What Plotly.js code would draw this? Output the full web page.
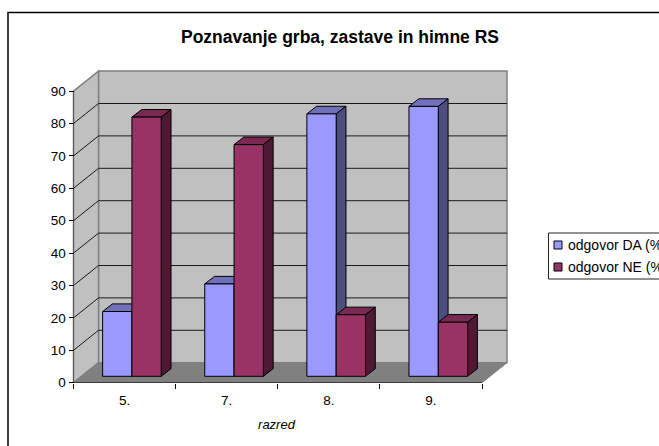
<!DOCTYPE html>
<html><head><meta charset="utf-8">
<script src="https://cdn.plot.ly/plotly-3.0.1.min.js"></script>
<style>html,body{margin:0;padding:0;background:#fff;overflow:hidden}</style>
</head><body><div id="chart" style="width:659px;height:446px"></div>
<script>
const categories = ["5.","7.","8.","9."];
const seriesDA = [20, 28.5, 81, 83.3];
const seriesNE = [80, 71.5, 19, 16.7];
const nameDA = "odgovor DA (%)";
const nameNE = "odgovor NE (%)";
const yTicks = [0,10,20,30,40,50,60,70,80,90];

const W=659,H=446;
const FONT='"Liberation Sans", Arial, sans-serif';
// pixel calibration of the plot
const pxLeft=42, pxRight=511, pxTop=66, pxBottom=382.7;
const x0=73.5, catPx=102.125, unitPx=3.24;
const depthX=25/catPx, depthY=20/unitPx;       // wall depth
const barDX=9.8/catPx, barDY=7.6/unitPx;       // bar depth
const lift=6.4/unitPx, barStart=0.285, barW=0.287;
const n=categories.length, yMax=90;
const idx=categories.map((_,i)=>i);
const poly=(pts)=>'M'+pts.map(p=>p[0]+','+p[1]).join(' L')+' Z';
const line=(pts)=>'M'+pts.map(p=>p[0]+','+p[1]).join(' L');
const dataShape=(path,fill,col,w)=>({type:'path',xref:'x',yref:'y',layer:'below',path,fillcolor:fill||'rgba(0,0,0,0)',line:{color:col,width:w}});

const shapes=[];
// back wall, side wall, floor
shapes.push(dataShape(poly([[depthX,depthY],[n+depthX,depthY],[n+depthX,yMax+depthY],[depthX,yMax+depthY]]),'#C0C0C0','#808080',1.5));
shapes.push(dataShape(poly([[0,0],[depthX,depthY],[depthX,yMax+depthY],[0,yMax]]),'#C0C0C0','#808080',1.5));
shapes.push(dataShape(poly([[0,0],[n,0],[n+depthX,depthY],[depthX,depthY]]),'#808080','#808080',1));
// gridlines
yTicks.filter(v=>v>0&&v<yMax).forEach(v=>{
  shapes.push(dataShape(line([[0,v],[depthX,v+depthY],[n+depthX,v+depthY]]),null,'#1a1a1a',1));
});
// axis lines
shapes.push(dataShape(line([[0,0],[0,yMax]]),null,'#555555',1));
shapes.push(dataShape(line([[0,0],[n,0]]),null,'#000000',1));
// bar depth faces, from the data
function faces(values,shift,top,side){
  values.forEach((v,i)=>{
    const a=i+barStart+shift, b=a+barW, t=v+lift;
    shapes.push(dataShape(poly([[a,t],[b,t],[b+barDX,t+barDY],[a+barDX,t+barDY]]),top,'#000',1));
    shapes.push(dataShape(poly([[b,lift],[b+barDX,lift+barDY],[b+barDX,t+barDY],[b,t]]),side,'#000',1));
  });
}
faces(seriesDA,0,'#7070BB','#4D4D80');
faces(seriesNE,barW,'#7A2952','#4D1933');

// legend box, drawn to the reference's position and clipped by the window
const pxX=p=>p/W, pxY=p=>1-p/H;
const paperShape=(x1,y1,x2,y2,fill,col,w)=>({type:'rect',xref:'paper',yref:'paper',layer:'above',x0:pxX(x1),x1:pxX(x2),y0:pxY(y1),y1:pxY(y2),fillcolor:fill,line:{color:col,width:w}});
shapes.push(paperShape(548.5,233,680,279,'#FFFFFF','#222222',1));
shapes.push(paperShape(554,241,562,249,'#9999FF','#000',1));
shapes.push(paperShape(554,263,562,271,'#993366','#000',1));
// outer chart frame
shapes.push({type:'path',xref:'paper',yref:'paper',layer:'above',
  path:`M${pxX(8)},${pxY(446)} L${pxX(8)},${pxY(12.5)} L${pxX(659)},${pxY(12.5)}`,
  line:{color:'#000',width:1.5}});

const barTrace=(name,values,shift,color)=>({type:'bar',name,x:idx.map(i=>i+barStart+shift+barW/2),y:values,base:values.map(()=>lift),
  width:barW,marker:{color,line:{color:'#000',width:1}},hoverinfo:'y+name'});
const traces=[barTrace(nameDA,seriesDA,0,'#9999FF'),barTrace(nameNE,seriesNE,barW,'#993366')];

const legendText=(t,yp)=>({xref:'paper',yref:'paper',x:pxX(566),y:pxY(yp),xanchor:'left',yanchor:'middle',showarrow:false,text:t,align:'left',font:{family:FONT,size:14,color:'#000'}});

const layout={
  width:W,height:H,paper_bgcolor:'#fff',plot_bgcolor:'#fff',
  margin:{l:0,r:0,t:0,b:0,autoexpand:false},
  showlegend:false,barmode:'overlay',
  title:{text:'<b>Poznavanje grba, zastave in himne RS</b>',x:340/W,xanchor:'center',xref:'paper',y:1-37/H,yanchor:'middle',yref:'paper',font:{family:FONT,size:17.5,color:'#000'}},
  xaxis:{domain:[pxLeft/W,pxRight/W],range:[(pxLeft-x0)/catPx,(pxRight-x0)/catPx],
    tickmode:'array',tickvals:idx.map(i=>i+0.5),ticktext:categories,ticks:'',showgrid:false,zeroline:false,showline:false,
    tickfont:{family:FONT,size:13.5,color:'#000'},ticklabelstandoff:8,
    minor:{tickmode:'array',tickvals:[0,1,2,3,4],ticks:'outside',ticklen:5,tickcolor:'#000',tickwidth:1,showgrid:false},
    title:{text:'<i>razred</i>',font:{family:FONT,size:13,color:'#000'},standoff:12}},
  yaxis:{domain:[1-pxBottom/H,1-pxTop/H],range:[0,(pxBottom-pxTop)/unitPx],anchor:'free',position:x0/W,
    tickmode:'array',tickvals:yTicks,ticktext:yTicks.map(String),ticks:'outside',ticklen:5,tickcolor:'#000',tickwidth:1,
    showgrid:false,zeroline:false,showline:false,tickfont:{family:FONT,size:13.5,color:'#000'}},
  shapes,
  annotations:[legendText(nameDA,245),legendText(nameNE,267)]
};
Plotly.newPlot('chart',traces,layout,{staticPlot:true,displayModeBar:false});
</script></body></html>
